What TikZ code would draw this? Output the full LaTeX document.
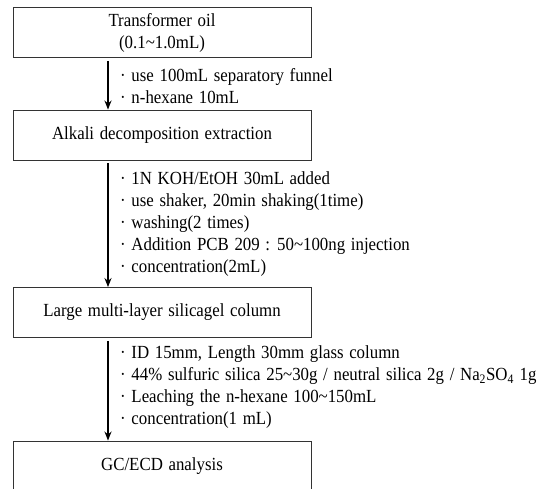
\documentclass[tikz,border=0pt]{standalone}
\usepackage{fontspec}
\setmainfont{Liberation Serif}[FakeStretch=0.91,WordSpace=1.35]
\usetikzlibrary{arrows.meta}

\begin{document}
\begin{tikzpicture} [
    x=1pt, y=-1pt,
    font=\fontsize{18.5}{22}\selectfont,
    stage/.style = { rectangle, draw=black!80, line width=0.9pt,
                     minimum width=298pt, minimum height=50pt,
                     align=center, inner sep=0pt },
    note/.style  = { anchor=west, align=left, inner sep=0pt },
    line/.style  = { draw, line width=1.3pt, shorten <=3pt,
                     -{Stealth[length=9pt,width=7pt]} },
  ]
\useasboundingbox (0,0) rectangle (547,489);

\node [stage] (oil)    at (162,32.5) {Transformer oil \\ (0.1\textasciitilde1.0mL)};
\node [stage] (alkali) at (162,135)  {Alkali decomposition extraction};
\node [stage] (column) at (162,312.5) {Large multi-layer silicagel column};
\node [stage] (gc)     at (162,466)  {GC/ECD analysis};

\node [note] (step1) at (120,86)  {· use 100mL separatory funnel \\
                                   · n-hexane 10mL};
\node [note] (step2) at (120,224) {· 1N KOH/EtOH 30mL added \\
                                   · use shaker, 20min shaking(1time) \\
                                   · washing(2 times) \\
                                   · Addition PCB 209 : 50\textasciitilde100ng injection \\
                                   · concentration(2mL)};
\node [note] (step3) at (120,387) {· ID 15mm, Length 30mm glass column \\
                                   · 44\% sulfuric silica 25\textasciitilde30g / neutral silica 2g / Na\textsubscript{2}SO\textsubscript{4} 1g \\
                                   · Leaching the n-hexane 100\textasciitilde150mL \\
                                   · concentration(1 mL)};

\begin{scope} [every path/.style=line]
    \path ([xshift=-54pt]oil.south)    -- ([xshift=-54pt]alkali.north);
    \path ([xshift=-54pt]alkali.south) -- ([xshift=-54pt]column.north);
    \path ([xshift=-54pt]column.south) -- ([xshift=-54pt]gc.north);
\end{scope}

\end{tikzpicture}
\end{document}
